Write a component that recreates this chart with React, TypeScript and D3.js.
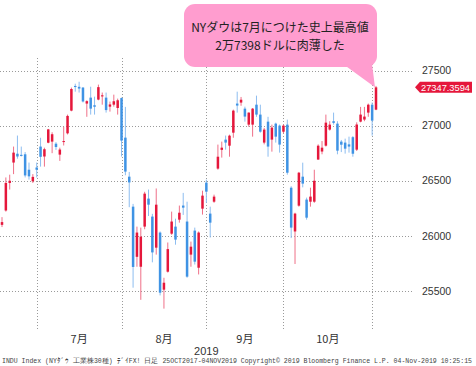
import * as d3 from "d3";

// Dow Jones daily candles, 2019-06-17 .. 2019-11-01
const dates = [
  "2019-06-17", "2019-06-18", "2019-06-19", "2019-06-20", "2019-06-21", "2019-06-24", "2019-06-25", "2019-06-26", "2019-06-27", "2019-06-28",
  "2019-07-01", "2019-07-02", "2019-07-03", "2019-07-05", "2019-07-08", "2019-07-09", "2019-07-10", "2019-07-11", "2019-07-12", "2019-07-15", "2019-07-16",
  "2019-07-17", "2019-07-18", "2019-07-19", "2019-07-22", "2019-07-23", "2019-07-24", "2019-07-25", "2019-07-26", "2019-07-29", "2019-07-30", "2019-07-31",
  "2019-08-01", "2019-08-02", "2019-08-05", "2019-08-06", "2019-08-07", "2019-08-08", "2019-08-09", "2019-08-12", "2019-08-13", "2019-08-14", "2019-08-15",
  "2019-08-16", "2019-08-19", "2019-08-20", "2019-08-21", "2019-08-22", "2019-08-23", "2019-08-26", "2019-08-27", "2019-08-28", "2019-08-29", "2019-08-30",
  "2019-09-03", "2019-09-04", "2019-09-05", "2019-09-06", "2019-09-09", "2019-09-10", "2019-09-11", "2019-09-12", "2019-09-13", "2019-09-16",
  "2019-09-17", "2019-09-18", "2019-09-19", "2019-09-20", "2019-09-23", "2019-09-24", "2019-09-25", "2019-09-26", "2019-09-27", "2019-09-30",
  "2019-10-01", "2019-10-02", "2019-10-03", "2019-10-04", "2019-10-07", "2019-10-08", "2019-10-09", "2019-10-10", "2019-10-11", "2019-10-14", "2019-10-15",
  "2019-10-16", "2019-10-17", "2019-10-18", "2019-10-21", "2019-10-22", "2019-10-23", "2019-10-24", "2019-10-25", "2019-10-28", "2019-10-29", "2019-10-30",
  "2019-10-31", "2019-11-01",
];

const opens = [
  26100, 26230, 26480, 26665, 26745, 26735, 26740, 26600, 26495, 26620,
  26810, 26720, 26845, 26855, 26836, 26737, 26855, 26930, 27136, 27360, 27352, 27345, 27200, 27254, 27185, 27236, 27265, 27254, 27172, 27190, 27160, 27250,
  26891, 26537, 26265, 25810, 25720, 26084, 26338, 26175, 25893, 26030, 25512, 25675, 26020, 26084, 26147, 26275, 26130, 25830, 26048, 25711, 26247, 26483,
  26202, 26310, 26610, 26780, 26873, 26818, 26936, 27200, 27209, 27154, 27009, 27009, 27190, 27100, 26846, 27036, 26873, 27018, 27000, 26945,
  27009, 26437, 26040, 26274, 26537, 26329, 26310, 26310, 26692, 26765, 26818, 26964, 27040, 27018, 26855, 26846, 26830, 26895, 26782, 27036, 27055, 27118, 27190,
  27145,
];
const highs = [
  26170, 26530, 26555, 26810, 26910, 26810, 26760, 26665, 26560, 26665,
  26890, 26800, 26970, 26940, 26850, 26800, 26990, 27100, 27345, 27380, 27398, 27350, 27230, 27353, 27263, 27372, 27300, 27300, 27218, 27281, 27245, 27255,
  27170, 26580, 26290, 26084, 26075, 26400, 26420, 26200, 26430, 26040, 25620, 25940, 26220, 26156, 26275, 26390, 26310, 25948, 26075, 26040, 26410, 26510,
  26265, 26374, 26828, 26855, 26910, 26918, 27145, 27308, 27260, 27172, 27120, 27160, 27272, 27190, 26980, 27080, 27009, 27027, 27010, 27010,
  27054, 26450, 26210, 26580, 26664, 26347, 26437, 26600, 26830, 26860, 27100, 27040, 27118, 27040, 26870, 26882, 26900, 26905, 27030, 27170, 27170, 27200, 27210,
  27360,
];
const lows = [
  26080, 26220, 26420, 26560, 26700, 26720, 26530, 26510, 26480, 26530,
  26628, 26628, 26840, 26750, 26780, 26680, 26820, 26920, 27130, 27308, 27300, 27210, 27080, 27100, 27100, 27230, 27190, 27118, 27127, 27172, 27100, 26720,
  26550, 26260, 25530, 25720, 25420, 26060, 26180, 25760, 25830, 25460, 25340, 25667, 26010, 25920, 26120, 26190, 25620, 25720, 25740, 25650, 26193, 26300,
  25985, 26300, 26600, 26710, 26782, 26718, 26890, 27118, 27180, 27036, 26990, 26900, 27080, 26936, 26830, 26718, 26764, 26846, 26755, 26930,
  26555, 25980, 25745, 26265, 26440, 26147, 26265, 26300, 26690, 26740, 26810, 26955, 27009, 26740, 26760, 26746, 26755, 26718, 26770, 27030, 27040, 27080, 26909,
  27140,
];
const closes = [
  26125, 26480, 26500, 26755, 26720, 26725, 26548, 26540, 26535, 26600,
  26717, 26786, 26966, 26922, 26806, 26783, 26860, 27088, 27332, 27350, 27336, 27219, 27222, 27154, 27171, 27349, 27275, 27141, 27192, 27221, 27230, 26864,
  26583, 26485, 25718, 26030, 25993, 26383, 26283, 25850, 26283, 25485, 25575, 25880, 26130, 25966, 26210, 26256, 25630, 25902, 25766, 26030, 26365, 26401,
  26120, 26356, 26718, 26800, 26846, 26909, 27136, 27182, 27235, 27082, 27118, 27154, 27100, 26945, 26964, 26810, 26982, 26900, 26828, 27000,
  26573, 26075, 26202, 26573, 26474, 26165, 26356, 26500, 26818, 26800, 27027, 27009, 27025, 26773, 26827, 26791, 26810, 26745, 27010, 27100, 27082, 27190, 27045,
  27347.3594,
];

const yTicks = [25500, 26000, 26500, 27000, 27500];
const monthLabels = ["7月", "8月", "9月", "10月"];
const yearLabel = "2019";
const lastPrice = "27347.3594";
const calloutLines = ["NYダウは7月につけた史上最高値", "2万7398ドルに肉薄した"];
const footer =
  "INDU Index (NYﾀﾞｳ 工業株30種) ﾃﾞｲFX!  日足 25OCT2017-04NOV2019  Copyright© 2019 Bloomberg Finance L.P.  04-Nov-2019 10:25:15";

const W = 476;
const H = 366;
const plotRight = 413;
const plotTop = 58;
const plotBottom = 330;

const UP = "#e5173b";
const UP_WICK = "#ef7088";
const DOWN = "#3f93e4";
const DOWN_WICK = "#8dbdf0";
const GRID = "#9a9a9a";
const TEXT = "#333";

export default function App() {
  const x = d3.scaleLinear().domain([0, dates.length - 1]).range([2, 376]);
  const y = d3.scaleLinear().domain([25500, 27500]).range([291, 70.5]);

  // last trading day of each month gets a vertical grid line
  const monthEnds: number[] = [];
  dates.forEach((d, i) => {
    if (i < dates.length - 1 && dates[i + 1].slice(5, 7) !== d.slice(5, 7)) monthEnds.push(i);
  });

  const bodyW = 2.5;
  const tagY = y(closes[closes.length - 1]);
  const lastX = x(dates.length - 1);

  return (
    <svg
      width={W}
      height={H}
      style={{ position: "absolute", left: 0, top: 0, background: "#fff" }}
    >
      {/* horizontal grid */}
      {yTicks.map((t) => (
        <line
          key={"h" + t}
          x1={0}
          x2={plotRight}
          y1={Math.round(y(t)) + 0.5}
          y2={Math.round(y(t)) + 0.5}
          stroke={GRID}
          strokeDasharray="1,2"
        />
      ))}
      {/* vertical grid */}
      {monthEnds.map((i) => (
        <line
          key={"v" + i}
          x1={Math.round(x(i)) + 0.5}
          x2={Math.round(x(i)) + 0.5}
          y1={plotTop}
          y2={plotBottom}
          stroke={GRID}
          strokeDasharray="1,2"
        />
      ))}

      {/* candles */}
      {dates.map((d, i) => {
        const up = closes[i] >= opens[i];
        const cx = x(i);
        const top = y(Math.max(opens[i], closes[i]));
        const bot = y(Math.min(opens[i], closes[i]));
        return (
          <g key={d}>
            <line
              x1={cx}
              x2={cx}
              y1={y(highs[i])}
              y2={y(lows[i])}
              stroke={up ? UP_WICK : DOWN_WICK}
              strokeWidth={1}
            />
            <rect
              x={cx - bodyW / 2}
              y={top}
              width={bodyW}
              height={Math.max(1, bot - top)}
              fill={up ? UP : DOWN}
            />
          </g>
        );
      })}

      {/* y axis labels */}
      {yTicks.map((t) => (
        <text
          key={"t" + t}
          x={422}
          y={y(t)}
          dy="0.35em"
          fontSize={10.5}
          fontFamily="Liberation Sans, Arial, sans-serif"
          fill={TEXT}
        >
          {t}
        </text>
      ))}

      {/* last price tag */}
      <path
        d={`M${415},${tagY} L${420},${tagY - 5.5} L${472},${tagY - 5.5} L${472},${tagY + 5.5} L${420},${tagY + 5.5} Z`}
        fill={UP}
      />
      <text
        x={421}
        y={tagY}
        dy="0.36em"
        fontSize={9.5}
        fontFamily="Liberation Sans, Arial, sans-serif"
        fill="#fff"
        textLength={49}
        lengthAdjust="spacingAndGlyphs"
      >
        {lastPrice}
      </text>

      {/* month labels */}
      {monthLabels.map((m, k) => {
        const cx = (x(monthEnds[k]) + x(monthEnds[k + 1])) / 2;
        return (
          <text
            key={m}
            x={cx}
            y={343}
            textAnchor="middle"
            fontSize={11}
            fontFamily="Noto Sans CJK JP, sans-serif"
            fill={TEXT}
          >
            {m}
          </text>
        );
      })}
      <text
        x={x(monthEnds[2])}
        y={355}
        textAnchor="middle"
        fontSize={11}
        fontFamily="Liberation Sans, Arial, sans-serif"
        fill={TEXT}
      >
        {yearLabel}
      </text>

      {/* footer */}
      <text
        x={2}
        y={363}
        fontSize={6.5}
        fontFamily="Liberation Mono, DejaVu Sans Mono, monospace"
        fill="#444"
        textLength={470}
        lengthAdjust="spacingAndGlyphs"
      >
        {footer}
      </text>

      {/* callout */}
      <rect x={184} y={4} width={193} height={63} rx={11} fill="#ff9dcf" />
      <path d={`M343,64 L372,64 L${lastX - 1},${tagY} Z`} fill="#ff9dcf" />
      {calloutLines.map((l, k) => (
        <text
          key={l}
          x={280}
          y={32 + k * 18}
          textAnchor="middle"
          fontSize={12}
          fontFamily="Noto Sans CJK JP, sans-serif"
          fill="#222"
        >
          {l}
        </text>
      ))}
    </svg>
  );
}
